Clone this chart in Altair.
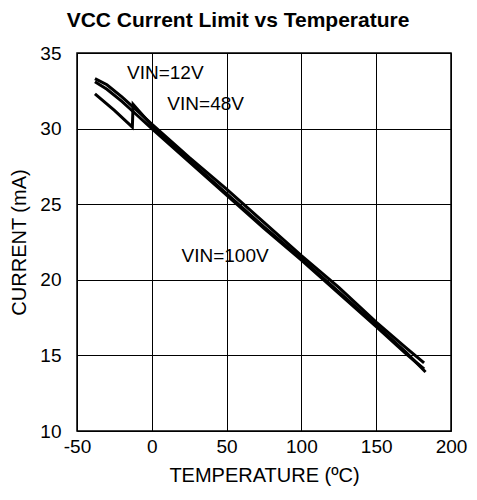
import altair as alt
import pandas as pd

t12 = [-38, -30, -20, -10, 0, 25, 50, 75, 100, 125, 150, 170, 182]
i12 = [33.3, 32.9, 32.1, 31.2, 30.3, 28.1, 26.0, 23.8, 21.6, 19.5, 17.2, 15.5, 14.5]
t48 = [-38, -30, -20, -10, 0, 25, 50, 75, 100, 125, 150, 170, 182]
i48 = [33.1, 32.6, 31.8, 30.9, 30.0, 27.8, 25.6, 23.4, 21.3, 19.1, 16.9, 15.1, 14.1]
t100 = [-38, -25, -13, -12.5, 0, 25, 50, 75, 100, 125, 150, 170, 183]
i100 = [32.3, 31.2, 30.1, 31.6, 30.2, 27.9, 25.7, 23.5, 21.4, 19.2, 17.0, 15.2, 13.9]

label_text = ["VIN=12V", "VIN=48V", "VIN=100V"]
label_x = [9, 36, 49]
label_y = [33.7, 31.6, 21.6]

rows = []
for name, ts, vs in [("12V", t12, i12), ("48V", t48, i48), ("100V", t100, i100)]:
    for k, (t, v) in enumerate(zip(ts, vs)):
        rows.append({"series": name, "order": k, "temp": t, "current": v})
df = pd.DataFrame(rows)
lab = pd.DataFrame({"text": label_text, "temp": label_x, "current": label_y})

FONT = "Liberation Sans"
xs = alt.Scale(domain=[-50, 200], nice=False)
ys = alt.Scale(domain=[10, 35], nice=False)

lines = alt.Chart(df).mark_line(color="black", strokeWidth=3).encode(
    x=alt.X("temp:Q", scale=xs, title="TEMPERATURE (ºC)",
            axis=alt.Axis(values=[-50, 0, 50, 100, 150, 200], grid=True, ticks=False,
                          labelFlush=False, labelOverlap=False,
                          labelExpr="'' + datum.value",
                          labelPadding=6, titlePadding=9)),
    y=alt.Y("current:Q", scale=ys, title="CURRENT (mA)",
            axis=alt.Axis(values=[10, 15, 20, 25, 30, 35], grid=True, ticks=False,
                          labelFlush=False, labelOverlap=False,
                          labelPadding=16, titlePadding=10)),
    detail="series:N",
    order="order:Q",
)

texts = alt.Chart(lab).mark_text(font=FONT, fontSize=19, color="black").encode(
    x=alt.X("temp:Q", scale=xs),
    y=alt.Y("current:Q", scale=ys),
    text="text:N",
)

chart = alt.layer(lines, texts).properties(
    width=374, height=378,
    title=alt.TitleParams("VCC Current Limit vs Temperature", font=FONT, fontSize=21,
                          fontWeight="bold", color="black", dx=-26, offset=13),
    autosize=alt.AutoSizeParams(type="none"),
    padding={"left": 69, "top": 45, "right": 18, "bottom": 60},
).configure_axis(
    labelFont=FONT, titleFont=FONT, labelFontSize=19, titleFontSize=20,
    labelColor="black", titleColor="black", titleFontWeight="normal",
    gridColor="black", gridOpacity=1, gridWidth=1, domain=False,
).configure_view(stroke="black", strokeWidth=1.5)

chart.save("out.html", embed_options={"renderer": "svg", "actions": False})
